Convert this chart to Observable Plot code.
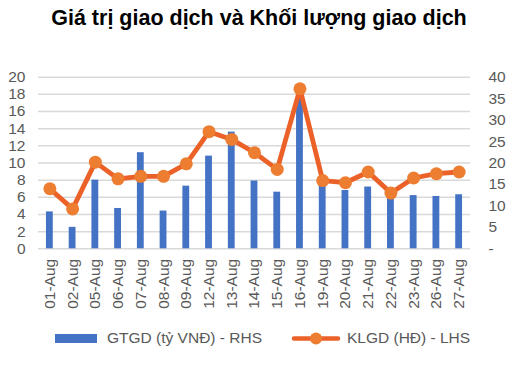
<!DOCTYPE html>
<html>
<head>
<meta charset="utf-8">
<script src="https://cdn.jsdelivr.net/npm/d3@7"></script>
<script src="https://cdn.jsdelivr.net/npm/@observablehq/plot@0.6"></script>
<style>
  body { margin: 0; background: #fff; font-family: "Liberation Sans", Arial, sans-serif; }
  #wrap { width: 514px; height: 372px; position: relative; overflow: hidden; }
  #title { position: absolute; top: 6px; left: 0; width: 518px; text-align: center; font-weight: bold; font-size: 21.5px; color: #000; }
  #chart { position: absolute; top: 40px; left: 0; }
  #legend { position: absolute; top: 328px; left: 0; width: 514px; height: 20px; font-size: 15.5px; color: #595959; }
  .lg { position: absolute; top: 0; line-height: 20px; white-space: nowrap; }
</style>
</head>
<body>
<div id="wrap">
  <div id="title">Giá trị giao dịch và Khối lượng giao dịch</div>
  <div id="chart"></div>
  <div id="legend">
    <svg class="lg" style="left:55px" width="44" height="20"><rect x="0" y="6" width="42" height="9" fill="#4472C4"/></svg>
    <span class="lg" style="left:107px">GTGD (tỷ VNĐ) - RHS</span>
    <svg class="lg" style="left:290px" width="54" height="20"><line x1="4" y1="10.5" x2="48" y2="10.5" stroke="#EB6128" stroke-width="4.5" stroke-linecap="round"/><circle cx="26" cy="10.5" r="6" fill="#ED7D31"/></svg>
    <span class="lg" style="left:347px">KLGD (HĐ) - LHS</span>
  </div>
</div>
<script>
const dates = ["01-Aug","02-Aug","05-Aug","06-Aug","07-Aug","08-Aug","09-Aug","12-Aug","13-Aug","14-Aug","15-Aug","16-Aug","19-Aug","20-Aug","21-Aug","22-Aug","23-Aug","26-Aug","27-Aug"];
const gtgd = [4.3,2.5,8.0,4.7,11.2,4.4,7.3,10.8,13.6,7.9,6.6,17.8,7.5,6.8,7.2,6.0,6.2,6.1,6.3];
const klgd = [14.0,9.3,20.2,16.3,16.9,16.9,19.8,27.3,25.5,22.4,18.5,37.3,15.9,15.4,17.9,13.0,16.5,17.5,17.9];
const leftTicks = [0,2,4,6,8,10,12,14,16,18,20];
const rightTicks = [0,5,10,15,20,25,30,35,40];

const barData = dates.map((d,i)=>({date:d, v:gtgd[i]}));
const lineData = dates.map((d,i)=>({date:d, v:klgd[i]/2}));

const chart = Plot.plot({
  width: 514,
  height: 278,
  marginTop: 36.7,
  marginBottom: 69.7,
  marginLeft: 38,
  marginRight: 44,
  style: {fontFamily: "'Liberation Sans', Arial, sans-serif", fontSize: "15px", color: "#595959", background: "transparent"},
  x: {domain: dates, paddingInner: 0.7, paddingOuter: 0.35, align: 0.5, round: false, label: null},
  y: {domain: [0,20], label: null},
  marks: [
    Plot.gridY(leftTicks, {stroke: "#d9d9d9", strokeOpacity: 1, strokeWidth: 1.5}),
    Plot.axisY(leftTicks, {anchor: "left", tickSize: 0, tickPadding: 13, label: null, fill: "#595959", fontSize: 15.5}),
    Plot.axisY(rightTicks.map(t=>t/2), {anchor: "right", tickSize: 0, tickPadding: 18, label: null, textAnchor: "start", fill: "#595959", fontSize: 15.5,
      tickFormat: t => t === 0 ? "-" : String(t*2)}),
    Plot.axisX({tickSize: 0, tickRotate: -90, tickPadding: 10, label: null, fill: "#595959", fontSize: 15.5}),
    Plot.barY(barData, {x: "date", y: "v", fill: "#4472C4"}),
    Plot.line(lineData, {x: "date", y: "v", stroke: "#EB6128", strokeWidth: 4.8, strokeLinejoin: "round", strokeLinecap: "round"}),
    Plot.dot(lineData, {x: "date", y: "v", r: 6.5, fill: "#ED7D31", stroke: "none"})
  ]
});
document.getElementById("chart").appendChild(chart);
</script>
</body>
</html>
